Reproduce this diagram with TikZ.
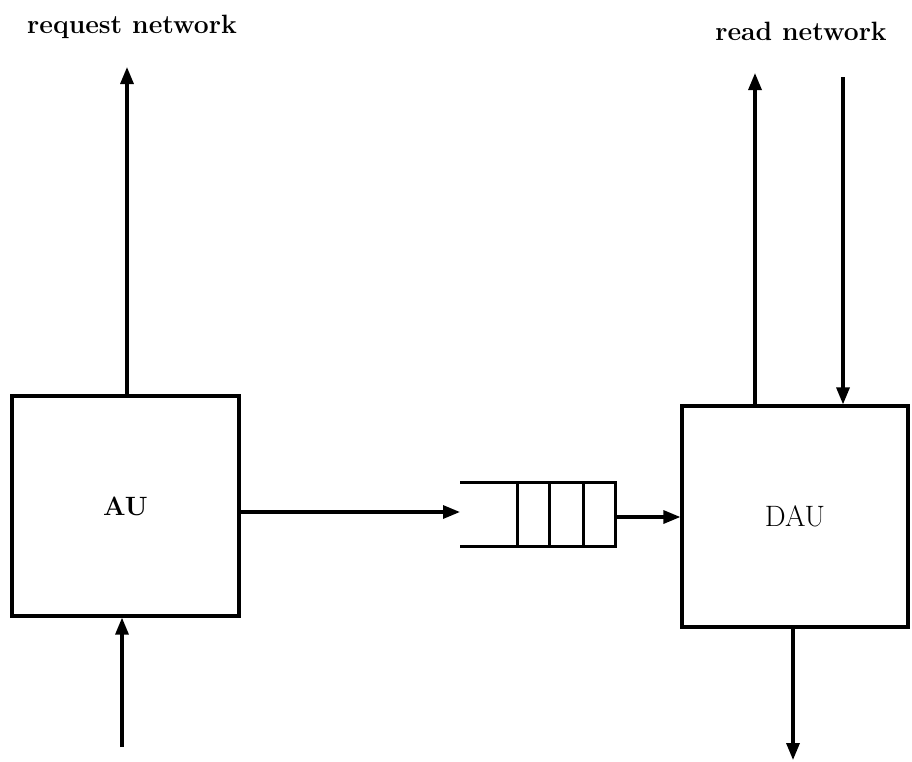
\documentclass[tikz,border=0pt]{standalone}
\usetikzlibrary{arrows.meta}
\begin{document}
\begin{tikzpicture}[x=1pt,y=-1pt,
  line width=3.2pt,
  unit/.style={draw, rectangle, inner sep=0pt, line width=3.2pt},
  arr/.style={-{Triangle[length=17pt,width=13pt]}},
  lbl/.style={anchor=base, inner sep=0pt, font=\fontsize{26.5}{30}\selectfont\bfseries},
  slot/.style={line width=3pt}]
  \useasboundingbox (0,0) rectangle (912,761);

  % the two units
  \node[unit, minimum width=227pt, minimum height=220pt,
        font=\fontsize{26.5}{30}\selectfont\bfseries] (au) at (125.5,506) {AU};
  \node[unit, minimum width=226pt, minimum height=221pt,
        font=\fontsize{29.5}{32}\selectfont] (dau) at (795,516.5) {DAU};

  % network labels
  \node[lbl] (reqnet) at (132,33) {request network};
  \node[lbl] (readnet) at (801,40) {read network};

  % queue between the units: open on the left, four slots on the right
  \node[draw, rectangle, inner sep=0pt, outer sep=0pt, slot,
        minimum width=98pt, minimum height=64pt] (q) at (566,514) {};
  \coordinate (qtl) at (460,482);
  \coordinate (qbl) at (460,546);
  \coordinate (qin) at (460,512);
  \draw[slot] (qtl) -- (q.north west);
  \draw[slot] (qbl) -- (q.south west);
  \draw[slot] (549,482) -- (549,546);
  \draw[slot] (583,482) -- (583,546);

  % connector end points
  \coordinate (reqtop) at (127,67);
  \coordinate (aubot) at (122,747);
  \coordinate (rdup) at (755,73);
  \coordinate (rddown) at (843,77);
  \coordinate (daubot) at (793,760);

  % connectors
  \draw[arr] (au.north -| reqtop) -- (reqtop);
  \draw[arr] (aubot) -- (aubot |- au.south);
  \draw[arr] (au.east |- qin) -- (qin);
  \draw[arr] (q.east |- 0,517) -- (dau.west |- 0,517);
  \draw[arr] (dau.north -| rdup) -- (rdup);
  \draw[arr] (rddown) -- (rddown |- dau.north);
  \draw[arr] (dau.south -| daubot) -- (daubot);
\end{tikzpicture}
\end{document}
